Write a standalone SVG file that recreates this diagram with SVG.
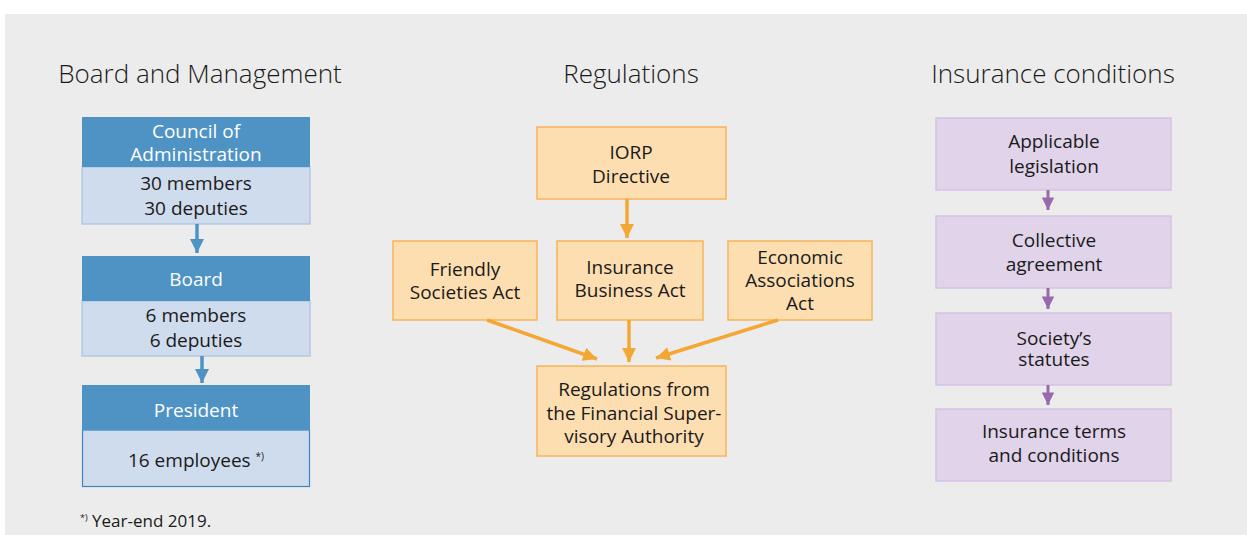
<svg xmlns="http://www.w3.org/2000/svg" width="1247" height="535" viewBox="0 0 1247 535">
<defs>
<style>
text{font-family:"Open Sans","Noto Sans","Liberation Sans",sans-serif;text-anchor:middle;fill:#1a1a1a}
.title{font-size:26px;font-weight:300}
.t{font-size:19px}
.w{fill:#ffffff}
.hdr{fill:#4f93c4}
.body{fill:#cfdcee;stroke:#a9c3e0;stroke-width:1.2}
.or{fill:#fddeb1;stroke:#f6b45a;stroke-width:1.5}
.pu{fill:#e0d3ea;stroke:#d4c3e3;stroke-width:1.5}
.cb{stroke:#4f93c4;stroke-width:3.5;fill:none}
.co{stroke:#f5a733;stroke-width:3.5;fill:none}
.cp{stroke:#9a68ad;stroke-width:3;fill:none}
.fn{font-size:17px;text-anchor:start}
</style>
<marker id="ab" viewBox="0 0 10 10" refX="10" refY="5" markerWidth="4" markerHeight="4" markerUnits="strokeWidth" orient="auto"><path d="M0,0L10,5L0,10z" fill="#4f93c4"/></marker>
<marker id="ao" viewBox="0 0 10 10" refX="10" refY="5" markerWidth="4" markerHeight="4" markerUnits="strokeWidth" orient="auto"><path d="M0,0L10,5L0,10z" fill="#f5a733"/></marker>
<marker id="ap" viewBox="0 0 10 10" refX="10" refY="5" markerWidth="4.2" markerHeight="4.2" markerUnits="strokeWidth" orient="auto"><path d="M0,0L10,5L0,10z" fill="#9a68ad"/></marker>
</defs>
<rect x="5" y="14" width="1242" height="521" fill="#ececec"/>
<text class="title" x="200" y="83">Board and Management</text>
<text class="title" x="631" y="83">Regulations</text>
<text class="title" x="1053" y="83">Insurance conditions</text>

<g id="council">
<rect class="body" x="82" y="167" width="228" height="57"/>
<rect class="hdr" x="82" y="117" width="228" height="50"/>
<text class="t w" x="196" y="138">Council of</text>
<text class="t w" x="196" y="161">Administration</text>
<text class="t" x="196" y="190">30 members</text>
<text class="t" x="196" y="215">30 deputies</text>
</g>
<g id="board">
<rect class="body" x="82" y="301" width="228" height="55"/>
<rect class="hdr" x="82" y="256" width="228" height="45"/>
<text class="t w" x="196" y="286">Board</text>
<text class="t" x="196" y="322">6 members</text>
<text class="t" x="196" y="347">6 deputies</text>
</g>
<g id="president">
<rect class="body" x="82.5" y="430" width="227" height="56.5" style="stroke:#3f86bf"/>
<rect class="hdr" x="82" y="385" width="228" height="45"/>
<text class="t w" x="196" y="417">President</text>
<text class="t" x="196" y="467">16 employees <tspan font-size="10" dy="-7">*)</tspan></text>
</g>
<text class="fn" x="80" y="527"><tspan font-size="9" dy="-6">*)</tspan><tspan dy="6"> Year-end 2019.</tspan></text>

<g id="iorp">
<rect class="or" x="537" y="127" width="189" height="72"/>
<text class="t" x="631" y="159">IORP</text>
<text class="t" x="631" y="183">Directive</text>
</g>
<g id="friendly">
<rect class="or" x="393" y="241" width="144" height="79"/>
<text class="t" x="465" y="276">Friendly</text>
<text class="t" x="465" y="299">Societies Act</text>
</g>
<g id="insurance-act">
<rect class="or" x="557" y="241" width="146" height="79"/>
<text class="t" x="630" y="274">Insurance</text>
<text class="t" x="630" y="297">Business Act</text>
</g>
<g id="economic">
<rect class="or" x="728" y="241" width="144" height="79"/>
<text class="t" x="800" y="264">Economic</text>
<text class="t" x="800" y="287">Associations</text>
<text class="t" x="800" y="310">Act</text>
</g>
<g id="fsa">
<rect class="or" x="537" y="366" width="189" height="90"/>
<text class="t" x="634" y="396">Regulations from</text>
<text class="t" x="634" y="420">the Financial Super-</text>
<text class="t" x="634" y="443">visory Authority</text>
</g>

<g id="applicable">
<rect class="pu" x="936" y="118" width="235" height="72"/>
<text class="t" x="1054" y="148">Applicable</text>
<text class="t" x="1054" y="173">legislation</text>
</g>
<g id="collective">
<rect class="pu" x="936" y="216" width="235" height="72"/>
<text class="t" x="1054" y="247">Collective</text>
<text class="t" x="1054" y="271">agreement</text>
</g>
<g id="statutes">
<rect class="pu" x="936" y="313" width="235" height="72"/>
<text class="t" x="1054" y="345">Society’s</text>
<text class="t" x="1054" y="366">statutes</text>
</g>
<g id="terms">
<rect class="pu" x="936" y="409" width="235" height="72"/>
<text class="t" x="1054" y="438">Insurance terms</text>
<text class="t" x="1054" y="462">and conditions</text>
</g>

<g id="connectors">
<line class="cb" x1="197" y1="224" x2="197" y2="253" marker-end="url(#ab)"/>
<line class="cb" x1="202" y1="356" x2="202" y2="383" marker-end="url(#ab)"/>
<line class="co" x1="627" y1="199" x2="627" y2="238" marker-end="url(#ao)"/>
<line class="co" x1="487" y1="320" x2="597" y2="359" marker-end="url(#ao)"/>
<line class="co" x1="629" y1="320" x2="629" y2="362" marker-end="url(#ao)"/>
<line class="co" x1="778" y1="320" x2="656" y2="358" marker-end="url(#ao)"/>
<line class="cp" x1="1048" y1="190" x2="1048" y2="210" marker-end="url(#ap)"/>
<line class="cp" x1="1048" y1="288" x2="1048" y2="309" marker-end="url(#ap)"/>
<line class="cp" x1="1048" y1="385" x2="1048" y2="405" marker-end="url(#ap)"/>
</g>
</svg>
